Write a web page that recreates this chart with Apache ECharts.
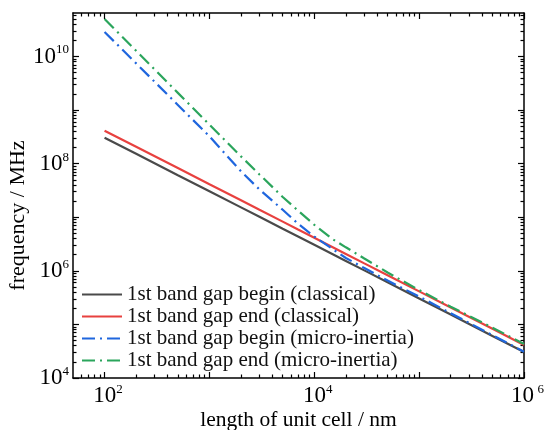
<!DOCTYPE html>
<html><head><meta charset="utf-8">
<script src="https://cdn.jsdelivr.net/npm/echarts@6/dist/echarts.min.js"></script>
<style>html,body{margin:0;padding:0;background:#fff}#c{width:544px;height:430px}</style>
</head><body><div id="c"></div>
<script>
// ---- data ----
const cellLength = [100, 200, 500, 1000, 2000, 3000, 5000, 7000, 10000, 15000, 20000, 30000, 50000, 100000, 200000, 500000, 1000000];
const beginClassical = [3.06e8, 1.53e8, 6.1e7, 3.06e7, 1.53e7, 1.02e7, 6.1e6, 4.37e6, 3.06e6, 2.04e6, 1.53e6, 1.02e6, 6.1e5, 3.06e5, 1.53e5, 6.1e4, 3.06e4];
const endClassical = [4.14e8, 2.07e8, 8.3e7, 4.14e7, 2.07e7, 1.38e7, 8.3e6, 5.9e6, 4.14e6, 2.76e6, 2.07e6, 1.38e6, 8.3e5, 4.14e5, 2.07e5, 8.3e4, 4.14e4];
const beginMicro = [2.88e10, 7.46e9, 1.25e9, 3.24e8, 7.19e7, 3.30e7, 1.38e7, 7.57e6, 4.37e6, 2.54e6, 1.74e6, 1.13e6, 6.58e5, 3.31e5, 1.62e5, 6.31e4, 3.09e4];
const endMicro = [5.01e10, 1.28e10, 2.10e9, 5.37e8, 1.37e8, 6.31e7, 2.39e7, 1.33e7, 7.24e6, 3.89e6, 2.75e6, 1.70e6, 9.33e5, 4.37e5, 2.14e5, 8.71e4, 4.32e4];
const seriesNames = ['1st band gap begin (classical)', '1st band gap end (classical)', '1st band gap begin (micro-inertia)', '1st band gap end (micro-inertia)'];
const xMajorTicks = [100, 1000, 10000, 100000, 1000000];
const xLabelValues = [100, 10000, 1000000];
const yMajorTicks = [1e4, 1e5, 1e6, 1e7, 1e8, 1e9, 1e10];
const yLabelValues = [1e4, 1e6, 1e8, 1e10];
const xRange = [50, 1e6];
const yRange = [1e4, 6.5e10];

function minorTicks(lo, hi) {
  const out = [];
  for (let e = Math.floor(Math.log10(lo)); e <= Math.ceil(Math.log10(hi)); e++) {
    for (let k = 2; k <= 9; k++) {
      const v = k * Math.pow(10, e);
      if (v > lo && v < hi) out.push(v);
    }
  }
  return out;
}
const xMinorTicks = minorTicks(xRange[0], xRange[1]);
const yMinorTicks = minorTicks(yRange[0], yRange[1]);

const FONT = 'Liberation Serif';
const colors = ['#4a4a4a', '#e8413f', '#1f66de', '#2ba55c'];
const lineTypes = ['solid', 'solid', [13, 5, 2, 5], [13, 5, 2, 5]];
const seriesData = [beginClassical, endClassical, beginMicro, endMicro];

function expOf(v) { return Math.round(Math.log10(v)); }

function axisBase(range, pos, major, isMajor) {
  return {
    type: 'log', min: range[0], max: range[1], position: pos,
    axisLine: { show: isMajor, onZero: false, lineStyle: { color: '#000', width: 1.5 } },
    axisTick: { show: true, inside: true, length: isMajor ? 6 : 3.5, customValues: major, lineStyle: { color: '#000', width: 1.2 } },
    axisLabel: { show: false },
    splitLine: { show: false },
    minorTick: { show: false }, minorSplitLine: { show: false },
    silent: true
  };
}

const richBase = {
  b: { fontFamily: FONT, fontSize: 23, color: '#000', lineHeight: 26 },
  e: { fontFamily: FONT, fontSize: 13, color: '#000', verticalAlign: 'top', lineHeight: 13 },
  s: { width: 7 }
};

const xMain = axisBase(xRange, 'bottom', xMajorTicks, true);
xMain.axisLabel = {
  show: true, customValues: xLabelValues, margin: 5,
  formatter: function (v) {
    const e = expOf(v);
    return e === 6 ? '{s|}{b|10} {e|' + e + '}' : '{s|}{b|10}{e|' + e + '}';
  },
  rich: richBase
};
xMain.name = 'length of unit cell / nm';
xMain.nameLocation = 'middle';
xMain.nameGap = 31;
xMain.nameMoveOverlap = false;
xMain.nameTextStyle = { fontFamily: FONT, fontSize: 21.5, color: '#000' };

const yMain = axisBase(yRange, 'left', yMajorTicks, true);
yMain.axisLabel = {
  show: true, customValues: yLabelValues, margin: 4,
  formatter: function (v) { return '{b|10}{e|' + expOf(v) + '}'; },
  rich: richBase
};
yMain.name = 'frequency / MHz';
yMain.nameLocation = 'middle';
yMain.nameGap = 44;
yMain.nameMoveOverlap = false;
yMain.nameTextStyle = { fontFamily: FONT, fontSize: 22, color: '#000', padding: [0, 40, 0, 0] };

const option = {
  animation: false,
  backgroundColor: '#fff',
  grid: { left: 73, right: 20, top: 13, bottom: 52, containLabel: false, outerBoundsMode: 'none' },
  legend: {
    orient: 'vertical', left: 76, top: 279, itemWidth: 40, itemHeight: 10, itemGap: 1,
    textStyle: { fontFamily: FONT, fontSize: 21, color: '#111' },
    itemStyle: { opacity: 0 },
    data: seriesNames
  },
  xAxis: [
    xMain,
    axisBase(xRange, 'bottom', xMinorTicks, false),
    axisBase(xRange, 'top', xMajorTicks, true),
    axisBase(xRange, 'top', xMinorTicks, false)
  ],
  yAxis: [
    yMain,
    axisBase(yRange, 'left', yMinorTicks, false),
    axisBase(yRange, 'right', yMajorTicks, true),
    axisBase(yRange, 'right', yMinorTicks, false)
  ],
  series: seriesNames.map(function (name, i) {
    return {
      name: name, type: 'line', xAxisIndex: 0, yAxisIndex: 0,
      symbol: 'none', smooth: false, z: 2 + i,
      data: cellLength.map(function (x, j) { return [x, seriesData[i][j]]; }),
      lineStyle: { color: colors[i], width: 2.2, type: lineTypes[i], cap: 'butt' },
      itemStyle: { color: colors[i] }
    };
  })
};

const chart = echarts.init(document.getElementById('c'), null, { renderer: 'canvas' });
chart.setOption(option);
</script>
</body></html>
